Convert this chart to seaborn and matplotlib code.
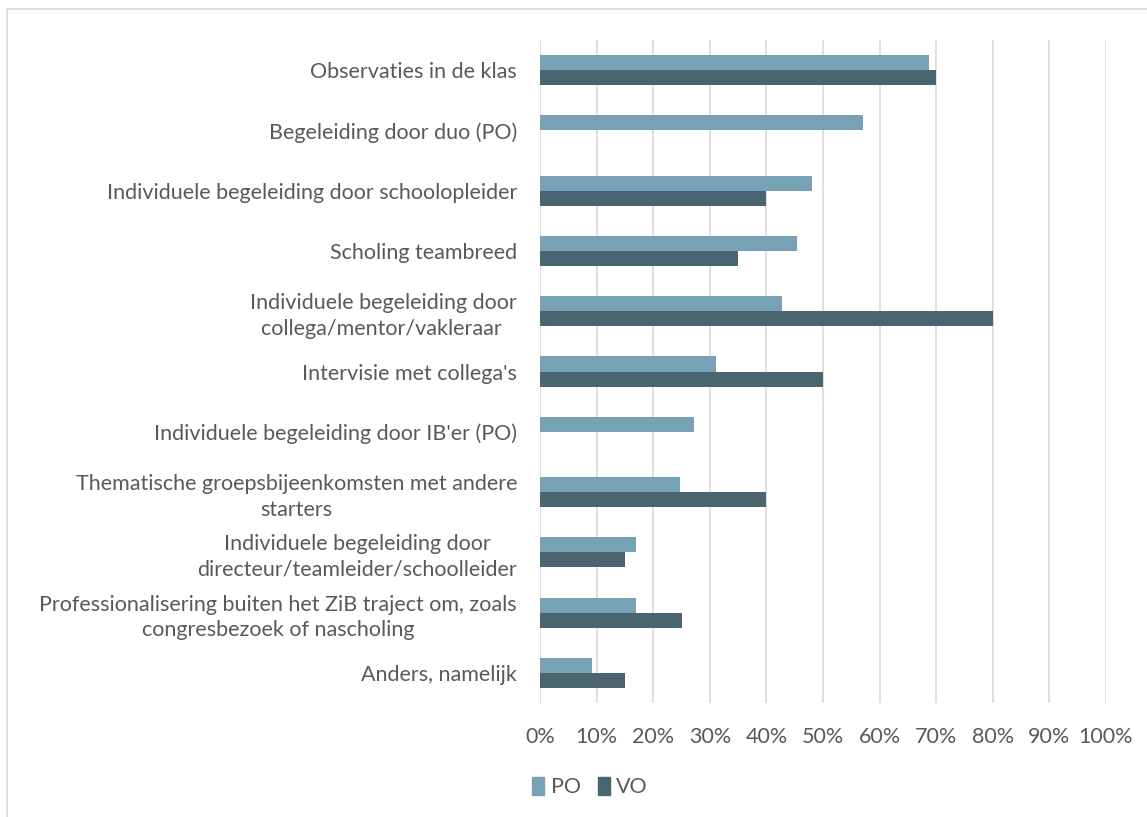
import matplotlib
matplotlib.use("Agg")
import matplotlib.pyplot as plt
import seaborn as sns
import pandas as pd
import numpy as np
from matplotlib.patches import Rectangle

categories = [
    "Observaties in de klas",
    "Begeleiding door duo (PO)",
    "Individuele begeleiding door schoolopleider",
    "Scholing teambreed",
    "Individuele begeleiding door\ncollega/mentor/vakleraar ",
    "Intervisie met collega's",
    "Individuele begeleiding door IB'er (PO)",
    "Thematische groepsbijeenkomsten met andere\nstarters",
    "Individuele begeleiding door\ndirecteur/teamleider/schoolleider",
    "Professionalisering buiten het ZiB traject om, zoals\ncongresbezoek of nascholing",
    "Anders, namelijk",
]
po = [68.8, 57.1, 48.1, 45.4, 42.8, 31.1, 27.2, 24.7, 16.9, 16.9, 9.1]
vo = [70, np.nan, 40, 35, 80, 50, np.nan, 40, 15, 25, 15]
series = ["PO", "VO"]
colors = {"PO": "#77A1B5", "VO": "#4A6470"}
xticks = list(range(0, 101, 10))

df = pd.DataFrame({
    "cat": categories * 2,
    "value": po + vo,
    "serie": ["PO"] * len(categories) + ["VO"] * len(categories),
})

sns.set_theme(style="white")
plt.rcParams["font.family"] = ["Lato", "DejaVu Sans"]
text_color = "#595959"
fs = 15.5

fig = plt.figure(figsize=(11.47, 8.17), dpi=100)
ax = fig.add_axes([540 / 1147, 1 - 703 / 817, (1106 - 540) / 1147, (703 - 40) / 817])

sns.barplot(data=df, y="cat", x="value", hue="serie", hue_order=series,
            order=categories, palette=colors, width=0.5, orient="h",
            ax=ax, legend=False, saturation=1, edgecolor="none")

ax.set_xlim(0, 100)
ax.set_ylim(10.5, -0.5)
ax.set_xticks(xticks)
ax.set_xticklabels([f"{t}%" for t in xticks], fontsize=fs, color=text_color)
ax.tick_params(axis="x", length=0, pad=17)
ax.tick_params(axis="y", length=0, pad=16.5)
for lbl in ax.get_yticklabels():
    lbl.set_fontsize(fs)
    lbl.set_color(text_color)
    lbl.set_multialignment("center")
    lbl.set_linespacing(1.35)
ax.xaxis.grid(True, color="#D9D9D9", linewidth=1.2)
ax.set_axisbelow(True)
for s in ax.spines.values():
    s.set_visible(False)
ax.set_xlabel("")
ax.set_ylabel("")

# legend
handles = [Rectangle((0, 0), 1, 1, color=colors[s]) for s in series]
fig.legend(handles, series, loc="center", bbox_to_anchor=(590 / 1147, 1 - 787 / 817),
           ncol=2, frameon=False, fontsize=fs, handlelength=0.55, handleheight=0.9,
           handletextpad=0.3, columnspacing=0.8, labelcolor=text_color)

# chart border
fig.patches.append(Rectangle((7 / 1147, -0.01), 1.0, 1 - 9 / 817 + 0.01,
                             transform=fig.transFigure, fill=False,
                             edgecolor="#D9D9D9", linewidth=1.2))

fig.savefig("out.png", dpi=100)
